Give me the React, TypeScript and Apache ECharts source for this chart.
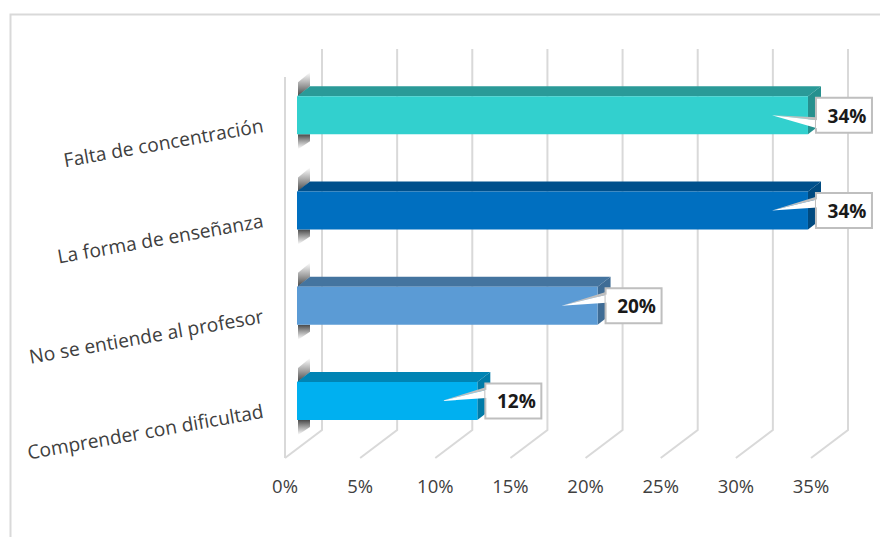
import React, { useEffect, useRef } from "react";
import * as echarts from "echarts";

const categories = ["Falta de concentración", "La forma de enseñanza", "No se entiende al profesor", "Comprender con dificultad"];
const values = [34, 34, 20, 12];
const frontColors = ["#32D0CE", "#006FC0", "#5B9BD5", "#00B0F0"];
const topColors = ["#2A9A98", "#00508C", "#44749F", "#0084B4"];
const sideColors = ["#26908E", "#004A80", "#3F6C95", "#007BA8"];
const tailDown = [true, false, false, false];
const ticks = [0, 5, 10, 15, 20, 25, 30, 35];
const FONT = "'Open Sans', Lato, sans-serif";

export default function App() {
  const ref = useRef<HTMLDivElement>(null);
  useEffect(() => {
    const chart = echarts.init(ref.current!, null, { renderer: "svg" });
    const wallDx = 37, wallDy = -28, barDx = 12, barDy = -9.5, depthDx = 13, depthDy = -10, barH = 38;
    const shadeUp = new echarts.graphic.LinearGradient(0, 0, 0, 1, [
      { offset: 0, color: "rgba(90,90,90,0)" }, { offset: 1, color: "rgba(70,70,70,1)" },
    ]);
    const shadeDown = new echarts.graphic.LinearGradient(0, 0, 0, 1, [
      { offset: 0, color: "rgba(70,70,70,1)" }, { offset: 1, color: "rgba(90,90,90,0)" },
    ]);
    chart.setOption({
      animation: false,
      backgroundColor: "#fff",
      grid: { left: 285, top: 77, width: 526, height: 381 },
      xAxis: {
        type: "value", min: 0, max: 35, interval: 5,
        axisLabel: { formatter: "{value}%", fontFamily: FONT, fontSize: 18.5, color: "#404040", margin: 18 },
        axisLine: { show: false }, axisTick: { show: false }, splitLine: { show: false },
      },
      yAxis: {
        type: "category", inverse: true, data: categories,
        axisLabel: { rotate: 10, fontFamily: FONT, fontSize: 19.2, color: "#404040", margin: 22, interval: 0, padding: [5, 0, 0, 0] },
        axisLine: { show: false }, axisTick: { show: false }, splitLine: { show: false },
      },
      graphic: [{
        type: "polyline", silent: true,
        shape: { points: [[10.5, 537], [10.5, 14.5], [880, 14.5]] },
        style: { stroke: "#D9D9D9", lineWidth: 2, fill: "none" },
      }],
      series: [
        {
          type: "custom", silent: true, clip: false, z: 1,
          data: ticks.map((t) => [t]), encode: { x: 0 },
          renderItem: (params: any, api: any) => {
            const v = api.value(0);
            const x = api.coord([v, 0])[0];
            const g = params.coordSys;
            const bottom = g.y + g.height;
            const pts: number[][] = [[x, bottom], [x + wallDx, bottom + wallDy], [x + wallDx, g.y + wallDy]];
            const stroke = { stroke: "#D9D9D9", lineWidth: 2, fill: "none" };
            const children: any[] = [{ type: "polyline", shape: { points: pts }, style: stroke }];
            if (v === 0) children.push({ type: "line", shape: { x1: x, y1: bottom, x2: x, y2: g.y }, style: stroke });
            return { type: "group", children };
          },
        },
        {
          type: "custom", silent: true, clip: false, z: 2,
          data: values.map((v, i) => [v, i]), encode: { x: 0, y: 1 },
          renderItem: (params: any, api: any) => {
            const i = api.value(1);
            const v = api.value(0);
            const [x0, cy0] = api.coord([0, i]);
            const xEnd = api.coord([v, i])[0] + barDx;
            const x = x0 + barDx;
            const cy = cy0 + barDy;
            const t = cy - barH / 2, b = cy + barH / 2;
            const rectL = xEnd + 7, rectW = 58, rectH = 35;
            const down = tailDown[i];
            const tip = [xEnd - 36, cy];
            const tailA = [rectL + 2, down ? cy + 5 : cy - 11];
            const tailB = [rectL + 2, down ? cy + 13 : cy - 3];
            return {
              type: "group",
              children: [
                { type: "polygon", shape: { points: [[x + 1, t], [x + depthDx, t + depthDy], [x + depthDx, t - 24], [x + 1, t - 14]] }, style: { fill: shadeUp } },
                { type: "polygon", shape: { points: [[x + 1, b], [x + depthDx, b], [x + depthDx, b + 7], [x + 1, b + 15]] }, style: { fill: shadeDown } },
                { type: "polygon", shape: { points: [[x, t], [xEnd, t], [xEnd + depthDx, t + depthDy], [x + depthDx, t + depthDy]] }, style: { fill: topColors[i] } },
                { type: "polygon", shape: { points: [[xEnd, t], [xEnd + depthDx, t + depthDy], [xEnd + depthDx, b + depthDy], [xEnd, b]] }, style: { fill: sideColors[i] } },
                { type: "rect", shape: { x, y: t, width: xEnd - x, height: barH }, style: { fill: frontColors[i] } },
                { type: "polygon", shape: { points: [tip, [tailA[0], tailA[1] - 3], tailA] }, style: { fill: "#BFBFBF" } },
                { type: "polygon", shape: { points: [tip, tailA, tailB] }, style: { fill: "#fff" } },
                { type: "rect", shape: { x: rectL + 1, y: cy - rectH / 2, width: rectW - 2, height: rectH }, style: { fill: "#fff", stroke: "#BFBFBF", lineWidth: 2 } },
                { type: "polygon", shape: { points: [[tailA[0] - 1, tailA[1]], [tailB[0] - 1, tailB[1]], [tailB[0] + 2, tailB[1]], [tailA[0] + 2, tailA[1]]] }, style: { fill: "#fff" } },
                { type: "text", style: { text: v + "%", x: rectL + rectW / 2 + 3, y: cy + 0.5, align: "center", verticalAlign: "middle", fontFamily: FONT, fontSize: 19, fontWeight: "bold", fill: "#1a1a1a" } },
              ],
            };
          },
        },
      ],
    });
    return () => chart.dispose();
  }, []);
  return <div ref={ref} style={{ position: "absolute", left: 0, top: 0, width: 880, height: 537 }} />;
}
